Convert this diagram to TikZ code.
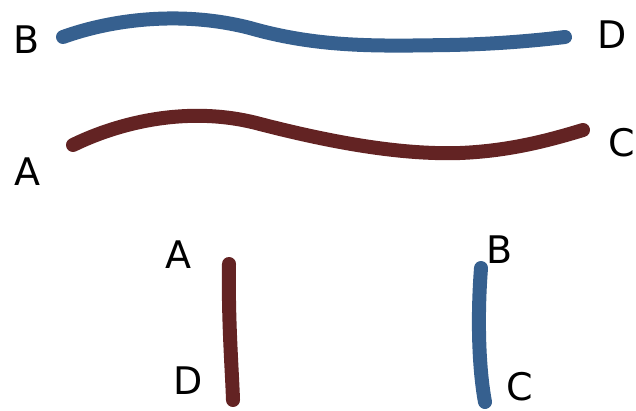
\documentclass[tikz,border=0pt]{standalone}
\usepackage{fontspec}
\setmainfont{DejaVu Sans}
\definecolor{strandblue}{HTML}{36608F}
\definecolor{strandred}{HTML}{632323}
\tikzset{
  strand/.style={line width=14pt, line cap=round},
  endlabel/.style={font=\fontsize{38}{38}\selectfont, inner sep=0pt}
}
\begin{document}
\begin{tikzpicture}[x=1pt,y=-1pt]
\useasboundingbox (0,0) rectangle (636,411);
% end points of the strands
\coordinate (b1) at (63,37);   \coordinate (d1) at (565,37);
\coordinate (a1) at (73,145);  \coordinate (c1) at (583,130);
\coordinate (a2) at (229,264); \coordinate (d2) at (233,400);
\coordinate (b2) at (481,268); \coordinate (c2) at (485,402);
\draw [strand, strandblue] (b1) .. controls (110,20) and (180,10) .. (250,28)
  .. controls (320,48) and (380,46) .. (450,45) .. controls (500,44) and (540,40) .. (d1);
\draw [strand, strandred] (a1) .. controls (120,122) and (190,105) .. (260,124)
  .. controls (330,142) and (400,155) .. (460,153) .. controls (510,151) and (550,140) .. (c1);
\draw [strand, strandred] (a2) .. controls (228,320) and (232,370) .. (d2);
\draw [strand, strandblue] (b2) .. controls (477,320) and (479,370) .. (c2);
\begin{scope}[endlabel]
    \node (lb1) at (27,40) {B};
    \node (ld1) at (612,35) {D};
    \node (la1) at (27,172) {A};
    \node (lc1) at (622,143) {C};
    \node (la2) at (178,255) {A};
    \node (ld2) at (188,381) {D};
    \node (lb2) at (500,250) {B};
    \node (lc2) at (520,387) {C};
\end{scope}
\end{tikzpicture}
\end{document}
